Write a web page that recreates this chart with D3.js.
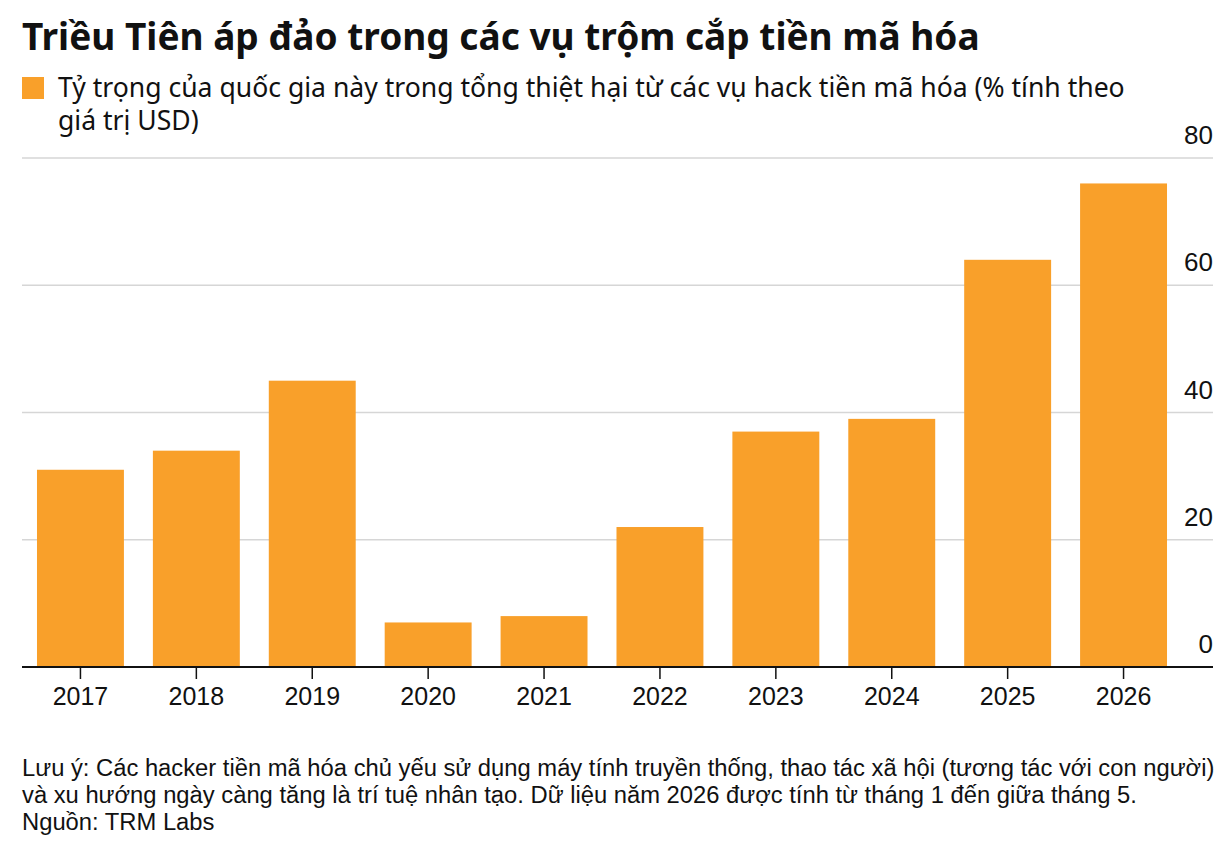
<!DOCTYPE html>
<html>
<head>
<meta charset="utf-8">
<script src="https://cdn.jsdelivr.net/npm/d3@7"></script>
<style>
  html, body { margin:0; padding:0; background:#fff; }
  svg { display:block; }
</style>
</head>
<body>
<svg id="chart" width="1232" height="848"></svg>
<script>
const years = ["2017","2018","2019","2020","2021","2022","2023","2024","2025","2026"];
const shares = [31, 34, 45, 7, 8, 22, 37, 39, 64, 76];
const yTicks = [0, 20, 40, 60, 80];
const titleText = "Triều Tiên áp đảo trong các vụ trộm cắp tiền mã hóa";
const legendLines = ["Tỷ trọng của quốc gia này trong tổng thiệt hại từ các vụ hack tiền mã hóa (% tính theo", "giá trị USD)"];
const noteLines = [
  "Lưu ý: Các hacker tiền mã hóa chủ yếu sử dụng máy tính truyền thống, thao tác xã hội (tương tác với con người)",
  "và xu hướng ngày càng tăng là trí tuệ nhân tạo. Dữ liệu năm 2026 được tính từ tháng 1 đến giữa tháng 5.",
  "Nguồn: TRM Labs"
];
const orange = "#f9a02a";

const svg = d3.select("#chart");
const plotL = 22, plotR = 1213, plotT = 158, plotB = 667;

// fit a text element's font size to a target width
function fitWidth(sel, target){
  const w = sel.node().getComputedTextLength();
  const fs = parseFloat(sel.attr("font-size"));
  sel.attr("font-size", fs*target/w);
}

const title = svg.append("text").attr("x", plotL).attr("y", 50)
  .attr("font-family", "Noto Sans, sans-serif").attr("font-weight", "bold")
  .attr("font-size", 34).attr("fill", "#111").text(titleText);
fitWidth(title, 958);

svg.append("rect").attr("x", plotL).attr("y", 77).attr("width", 22).attr("height", 22).attr("fill", orange);
const leg = svg.append("g").attr("font-family", "Noto Sans, sans-serif").attr("fill", "#111");
legendLines.forEach((t, i) => {
  leg.append("text").attr("x", 58).attr("y", 97 + i*33).attr("font-size", 26).text(t);
});
fitWidth(leg.select("text"), 1067);
leg.selectAll("text").attr("font-size", leg.select("text").attr("font-size"));

const x = d3.scaleBand().domain(years).range([22.5, 1181.5]).paddingInner(0.25).paddingOuter(0.125);
const y = d3.scaleLinear().domain([0, 80]).range([plotB, plotT]);

// gridlines + right labels
const grid = svg.append("g");
grid.selectAll("line").data(yTicks.filter(d => d > 0)).join("line")
  .attr("x1", plotL).attr("x2", plotR).attr("y1", d => y(d)).attr("y2", d => y(d))
  .attr("stroke", "#d6d6d6").attr("stroke-width", 1.5);
grid.selectAll("text").data(yTicks).join("text")
  .attr("x", plotR).attr("y", d => y(d) - 14).attr("text-anchor", "end")
  .attr("font-family", "Liberation Sans, Arial, sans-serif").attr("font-size", 26).attr("fill", "#111")
  .text(d => d);

svg.append("g").selectAll("rect").data(years).join("rect")
  .attr("x", d => x(d)).attr("width", x.bandwidth())
  .attr("y", (d, i) => y(shares[i])).attr("height", (d, i) => y(0) - y(shares[i]))
  .attr("fill", orange);

const xAxis = svg.append("g").attr("transform", `translate(0,${plotB})`)
  .call(d3.axisBottom(x).tickSize(12).tickPadding(8).tickSizeOuter(0));
xAxis.select(".domain").remove();
xAxis.insert("line", ":first-child").attr("x1", plotL).attr("x2", plotR).attr("stroke", "#111").attr("stroke-width", 2);
xAxis.selectAll(".tick line").attr("stroke", "#111").attr("stroke-width", 1.5);
xAxis.selectAll(".tick text").attr("font-family", "Liberation Sans, Arial, sans-serif")
  .attr("font-size", 25).attr("fill", "#111");

const notes = svg.append("g").attr("font-family", "Liberation Sans, Arial, sans-serif").attr("fill", "#111");
noteLines.forEach((t, i) => {
  notes.append("text").attr("x", plotL).attr("y", 776 + i*27).attr("font-size", 21).text(t);
});
fitWidth(notes.select("text"), 1193);
notes.selectAll("text").attr("font-size", notes.select("text").attr("font-size"));
</script>
</body>
</html>
